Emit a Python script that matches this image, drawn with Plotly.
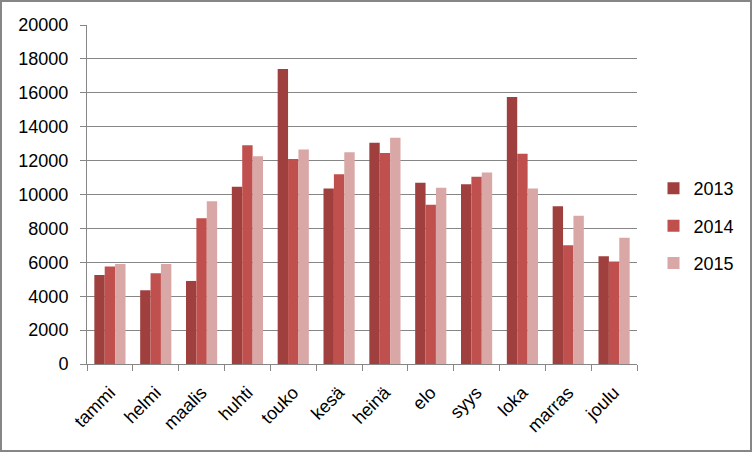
import plotly.graph_objects as go

months = ["tammi", "helmi", "maalis", "huhti", "touko", "kesä", "heinä", "elo", "syys", "loka", "marras", "joulu"]
v2013 = [5250, 4350, 4900, 10450, 17400, 10350, 13050, 10700, 10600, 15750, 9300, 6350]
v2014 = [5750, 5350, 8600, 12900, 12100, 11200, 12450, 9400, 11050, 12400, 7000, 6050]
v2015 = [5900, 5900, 9600, 12250, 12650, 12500, 13350, 10400, 11300, 10350, 8750, 7450]
years = ["2013", "2014", "2015"]
colors = ["#A0403E", "#C0504D", "#D9A7A6"]

W, H = 752, 452
ml, mr, mt, mb = 87, 115, 25, 88

fig = go.Figure()
for name, vals, c in zip(years, [v2013, v2014, v2015], colors):
    fig.add_trace(go.Bar(x=months, y=vals, name=name, marker_color=c,
                         marker_line_width=0, legendgroup=name))

pw = W - ml - mr
ph = H - mt - mb
fig.add_shape(type="rect", xref="paper", yref="paper",
              x0=-(ml - 1) / pw, x1=(pw + mr - 1) / pw,
              y0=-(mb - 1) / ph, y1=(ph + mt - 1) / ph,
              line=dict(color="#868686", width=2), layer="below")

fig.update_layout(
    width=W, height=H,
    margin=dict(l=ml, r=mr, t=mt, b=mb),
    paper_bgcolor="white", plot_bgcolor="white",
    font=dict(family="Liberation Sans, Arial, sans-serif", size=18, color="black"),
    barmode="group", bargap=0.32, bargroupgap=0,
    showlegend=True,
    legend=dict(x=1.03, y=0.407, xanchor="left", yanchor="middle",
                traceorder="grouped", tracegroupgap=11,
                font=dict(size=18), itemwidth=30),
    xaxis=dict(showline=True, linecolor="#868686", linewidth=1,
               ticks="outside", tickson="boundaries", ticklen=6, tickcolor="#868686",
               tickangle=-45, tickfont=dict(size=18), ticklabelstandoff=10),
    yaxis=dict(range=[0, 20000], dtick=2000, tickformat="d", showgrid=True,
               gridcolor="#868686", gridwidth=1,
               showline=True, linecolor="#868686", linewidth=1,
               ticks="outside", ticklen=6, tickcolor="#868686",
               tickfont=dict(size=18), ticklabelstandoff=8, zeroline=False),
)

fig.write_html("out.html", config={"displayModeBar": False},
               post_script="document.body.style.margin='0';document.body.style.overflow='hidden';")
